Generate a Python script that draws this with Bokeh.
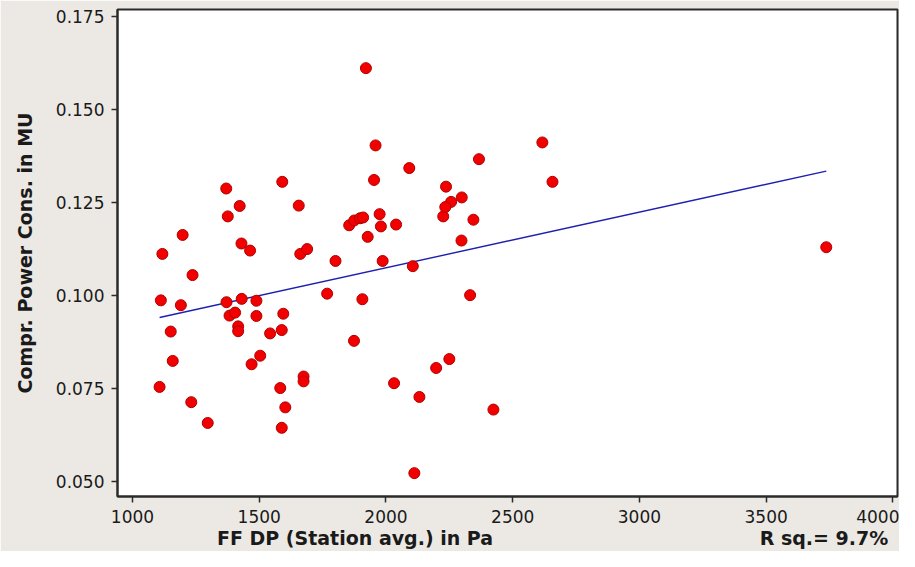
import numpy as np
from bokeh.plotting import figure
from bokeh.models import (Range1d, FixedTicker, NumeralTickFormatter, LinearAxis,
                          ColumnDataSource)
from bokeh.embed import file_html
from bokeh.resources import INLINE

# Data (x: FF DP in Pa, y: compressor power consumption in MU)
ff_dp = [1107, 1112, 1118, 1151, 1159, 1198, 1191, 1232, 1237, 1297,
         1370, 1376, 1423, 1371, 1383, 1405, 1431, 1430, 1464, 1417,
         1417, 1489, 1489, 1470, 1504, 1543, 1589, 1595, 1583, 1603,
         1589, 1591, 1656, 1662, 1689, 1675, 1675, 1768, 1801, 1855,
         1875, 1898, 1910, 1874, 1907, 1921, 1928, 1959, 1953, 1975,
         1980, 1987, 2040, 2032, 2092, 2106, 2112, 2132, 2198, 2250,
         2226, 2237, 2257, 2234, 2299, 2298, 2332, 2345, 2367, 2424,
         2617, 2657, 3737]
power = [0.0754, 0.0987, 0.1112, 0.0903, 0.0824, 0.1163, 0.0974, 0.0713, 0.1055, 0.0657,
         0.1288, 0.1213, 0.1241, 0.0982, 0.0946, 0.0954, 0.0991, 0.1140, 0.1121, 0.0917,
         0.0904, 0.0986, 0.0945, 0.0815, 0.0838, 0.0898, 0.0907, 0.0951, 0.0751, 0.0699,
         0.0644, 0.1306, 0.1242, 0.1112, 0.1125, 0.0782, 0.0769, 0.1005, 0.1093, 0.1189,
         0.1202, 0.1208, 0.1210, 0.0878, 0.0990, 0.1612, 0.1158, 0.1404, 0.1311, 0.1219,
         0.1186, 0.1093, 0.1191, 0.0764, 0.1343, 0.1079, 0.0522, 0.0727, 0.0805, 0.0829,
         0.1213, 0.1293, 0.1252, 0.1238, 0.1264, 0.1148, 0.1001, 0.1204, 0.1367, 0.0693,
         0.1412, 0.1306, 0.1130]

# Fitted regression line
fit_intercept = 0.0775
fit_slope = 1.498e-5

x_ticks = [1000, 1500, 2000, 2500, 3000, 3500, 4000]
y_ticks = [0.050, 0.075, 0.100, 0.125, 0.150, 0.175]

x_label = "FF DP (Station avg.) in Pa"
y_label = "Compr. Power Cons. in MU"
r_sq_text = "R sq.= 9.7%"
# where the x title and the R-squared note sit along the x axis (data units), as in the reference
x_label_at = 1878
r_sq_at = 3728

BG = "#ECE9E4"
FRAME = "#2b2b2b"
TXT = "#1a1a1a"

p = figure(width=899, height=551, output_backend="svg", toolbar_location=None,
           x_range=Range1d(941, 4018), y_range=Range1d(0.04591, 0.17698),
           min_border_left=117, min_border_right=2, min_border_top=9, min_border_bottom=55)
p.background_fill_color = "white"
p.border_fill_color = BG
p.outline_line_color = FRAME
p.outline_line_width = 2
p.xgrid.visible = False
p.ygrid.visible = False

for ax in (p.xaxis[0], p.yaxis[0]):
    ax.axis_line_color = FRAME
    ax.axis_line_width = 2
    ax.major_tick_line_color = FRAME
    ax.major_tick_line_width = 1.5
    ax.major_tick_out = 6
    ax.major_tick_in = 0
    ax.minor_tick_line_color = None
    ax.major_label_text_font = "DejaVu Sans"
    ax.major_label_text_font_size = "17px"
    ax.major_label_text_color = TXT

p.xaxis.ticker = FixedTicker(ticks=x_ticks)
p.xaxis.formatter = NumeralTickFormatter(format="0")
p.xaxis.major_label_standoff = 7
p.yaxis.ticker = FixedTicker(ticks=y_ticks)
p.yaxis.formatter = NumeralTickFormatter(format="0.000")
p.yaxis.major_label_standoff = 7

# y title: centred on the frame
p.yaxis.axis_label = y_label
p.yaxis.axis_label_standoff = 17
p.yaxis.axis_label_text_font = "DejaVu Sans"
p.yaxis.axis_label_text_font_style = "bold"
p.yaxis.axis_label_text_font_size = "19px"
p.yaxis.axis_label_text_color = TXT

# x title and R-squared note sit off-centre in the reference: drawn as a tick-label-only axis
xt = LinearAxis(ticker=FixedTicker(ticks=[x_label_at, r_sq_at]),
                major_label_overrides={x_label_at: x_label, r_sq_at: r_sq_text})
xt.axis_line_color = None
xt.major_tick_line_color = None
xt.minor_tick_line_color = None
xt.major_tick_out = 0
xt.major_tick_in = 0
xt.major_label_standoff = 1
xt.major_label_text_font = "DejaVu Sans"
xt.major_label_text_font_style = "bold"
xt.major_label_text_font_size = "19px"
xt.major_label_text_color = TXT
p.add_layout(xt, "below")

# regression line
xs = np.array([min(ff_dp), max(ff_dp)], dtype=float)
p.line(xs, fit_intercept + fit_slope * xs, line_color="#1f1fb0", line_width=1.4)

# points
src = ColumnDataSource(dict(x=ff_dp, y=power))
p.scatter("x", "y", source=src, size=11, fill_color="#F20000", line_color="#B00000", line_width=1)

open("out.html", "w").write(file_html(p, INLINE))
